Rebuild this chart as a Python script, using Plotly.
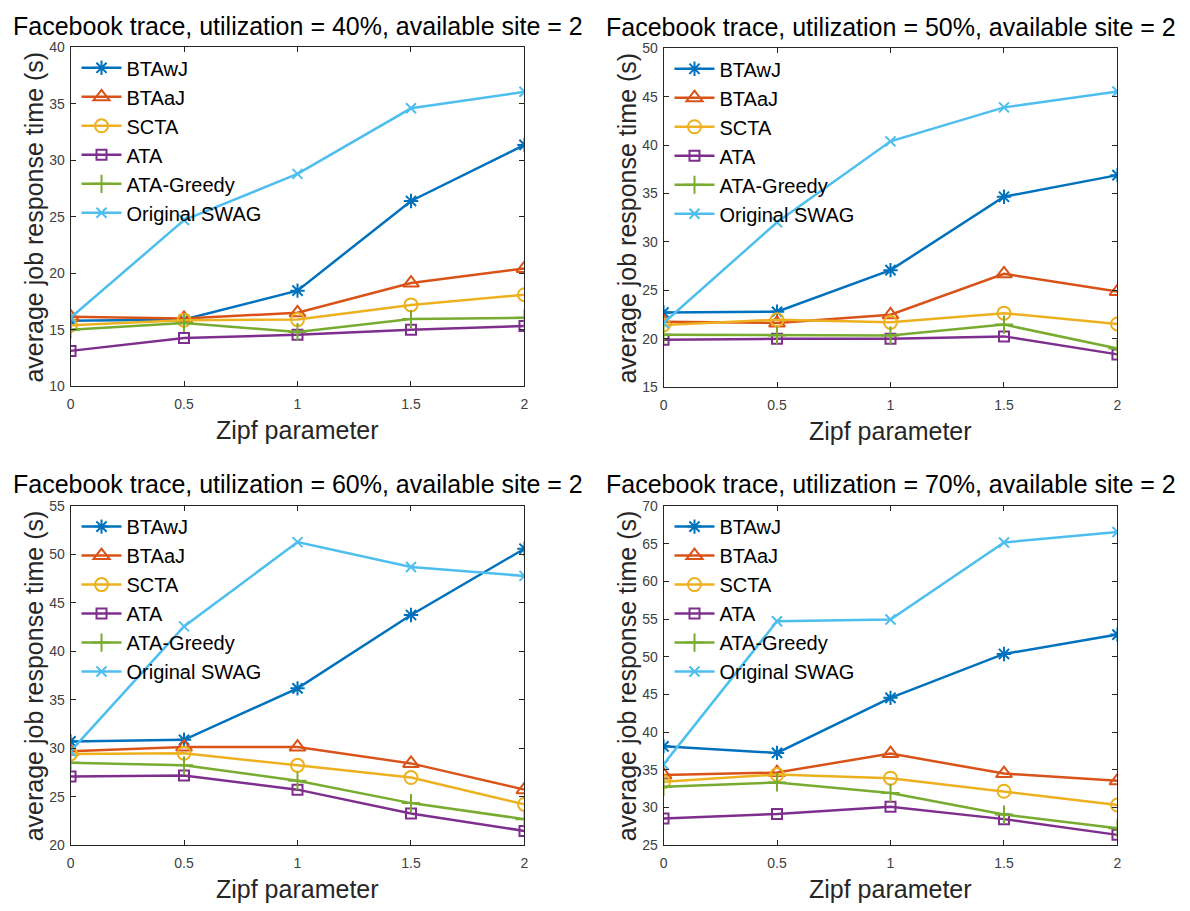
import plotly.graph_objects as go

# ---------------- data ----------------
zipf = [0, 0.5, 1, 1.5, 2]
zipf_labels = ["0", "0.5", "1", "1.5", "2"]
series_names = ["BTAwJ", "BTAaJ", "SCTA", "ATA", "ATA-Greedy", "Original SWAG"]
panel_titles = [
    "Facebook trace, utilization = 40%, available site = 2",
    "Facebook trace, utilization = 50%, available site = 2",
    "Facebook trace, utilization = 60%, available site = 2",
    "Facebook trace, utilization = 70%, available site = 2",
]

# utilization 40%
u40_btawj = [15.8, 15.9, 18.46, 26.4, 31.36]
u40_btaaj = [16.15, 16.0, 16.5, 19.13, 20.43]
u40_scta = [15.4, 15.85, 15.9, 17.2, 18.1]
u40_ata = [13.13, 14.26, 14.55, 14.99, 15.33]
u40_greedy = [15.0, 15.6, 14.8, 15.95, 16.06]
u40_swag = [16.06, 24.7, 28.8, 34.6, 36.06]

# utilization 50%
u50_btawj = [22.72, 22.79, 27.09, 34.67, 36.9]
u50_btaaj = [21.77, 21.63, 22.48, 26.71, 24.88]
u50_scta = [21.43, 21.97, 21.7, 22.65, 21.53]
u50_ata = [19.91, 20.0, 20.0, 20.25, 18.39]
u50_greedy = [20.42, 20.35, 20.35, 21.47, 19.0]
u50_swag = [21.63, 32.03, 40.39, 43.9, 45.53]

# utilization 60%
u60_btawj = [30.7, 30.87, 36.18, 43.76, 50.6]
u60_btaaj = [29.68, 30.12, 30.12, 28.43, 25.72]
u60_scta = [29.41, 29.48, 28.23, 26.97, 24.2]
u60_ata = [27.08, 27.18, 25.72, 23.25, 21.46]
u60_greedy = [28.5, 28.23, 26.64, 24.33, 22.67]
u60_swag = [29.68, 42.58, 51.28, 48.71, 47.79]

# utilization 70%
u70_btawj = [38.1, 37.23, 44.54, 50.37, 52.94]
u70_btaaj = [34.31, 34.62, 37.14, 34.49, 33.53]
u70_scta = [33.4, 34.36, 33.88, 32.14, 30.31]
u70_ata = [28.52, 29.13, 30.09, 28.44, 26.35]
u70_greedy = [32.75, 33.31, 31.92, 29.05, 27.22]
u70_swag = [35.7, 54.72, 54.94, 65.17, 66.56]

y_ranges = [[10, 40], [15, 50], [20, 55], [25, 70]]

panels = [
    [u40_btawj, u40_btaaj, u40_scta, u40_ata, u40_greedy, u40_swag],
    [u50_btawj, u50_btaaj, u50_scta, u50_ata, u50_greedy, u50_swag],
    [u60_btawj, u60_btaaj, u60_scta, u60_ata, u60_greedy, u60_swag],
    [u70_btawj, u70_btaaj, u70_scta, u70_ata, u70_greedy, u70_swag],
]

# ---------------- styles ----------------
colors = ["#0072BD", "#D95319", "#EDB120", "#7E2F8E", "#77AC30", "#4DBEEE"]
symbols = ["asterisk-open", "triangle-up-open", "circle-open", "square-open",
           "cross-thin-open", "x-thin-open"]
msizes = [12, 14, 13, 10, 13, 10]

W, H = 1190, 911
FONT = "Liberation Sans, Arial, Helvetica, sans-serif"

# axes geometry in pixels (left, right, top, bottom)
geom = [
    (67, 524, 40, 385),
    (664, 1121, 41, 386),
    (67, 524, 507, 852),
    (664, 1121, 507, 852),
]

fig = go.Figure()
layout = dict(
    width=W, height=H,
    margin=dict(l=0, r=0, t=0, b=0),
    paper_bgcolor="white", plot_bgcolor="white",
    font=dict(family=FONT, color="black"),
    showlegend=True,
)
annotations = []

for p in range(4):
    xa = "x" if p == 0 else f"x{p+1}"
    ya = "y" if p == 0 else f"y{p+1}"
    lg = "legend" if p == 0 else f"legend{p+1}"
    for s in range(6):
        fig.add_trace(go.Scatter(
            x=zipf, y=panels[p][s], name=series_names[s],
            mode="lines+markers",
            line=dict(color=colors[s], width=2.5),
            marker=dict(symbol=symbols[s], size=msizes[s], color=colors[s],
                        line=dict(color=colors[s], width=2)),
            xaxis=xa, yaxis=ya, legend=lg,
        ))
    l, r, t, b = geom[p]
    xdom = [l / W, r / W]
    ydom = [1 - b / H, 1 - t / H]
    axis_common = dict(
        showline=True, linecolor="#262626", linewidth=1, mirror="allticks",
        ticks="inside", ticklen=5, tickwidth=1, tickcolor="#262626",
        showgrid=False, zeroline=False,
        tickfont=dict(family=FONT, size=14, color="#404040"),
    )
    layout["xaxis" if p == 0 else f"xaxis{p+1}"] = dict(
        axis_common, domain=xdom, range=[0, 2], tickvals=zipf,
        ticktext=zipf_labels, anchor=ya, ticklabelstandoff=5,
    )
    layout["yaxis" if p == 0 else f"yaxis{p+1}"] = dict(
        axis_common, domain=ydom, range=y_ranges[p], dtick=5,
        anchor=xa, ticklabelstandoff=2,
    )
    layout[lg] = dict(
        x=(l + 6) / W, y=1 - (t + 1) / H, xanchor="left", yanchor="top",
        bgcolor="rgba(0,0,0,0)", borderwidth=0,
        font=dict(family=FONT, size=20, color="black"),
        itemwidth=40, tracegroupgap=0,
    )
    cx = (l + r) / 2 / W
    # panel title
    annotations.append(dict(
        text=panel_titles[p], x=cx, y=1 - (t - 22) / H, xref="paper", yref="paper",
        xanchor="center", yanchor="middle", showarrow=False,
        font=dict(family=FONT, size=25, color="black"),
    ))
    # x-axis title
    annotations.append(dict(
        text="Zipf parameter", x=cx, y=1 - (b + 45) / H, xref="paper", yref="paper",
        xanchor="center", yanchor="middle", showarrow=False,
        font=dict(family=FONT, size=25, color="#262626"),
    ))
    # y-axis title
    annotations.append(dict(
        text="average job response time (s)", x=(l - 37) / W, y=1 - (t + b) / 2 / H,
        xref="paper", yref="paper", xanchor="center", yanchor="middle",
        textangle=-90, showarrow=False,
        font=dict(family=FONT, size=25, color="#262626"),
    ))

layout["annotations"] = annotations
fig.update_layout(**layout)
fig.write_html("out.html")
